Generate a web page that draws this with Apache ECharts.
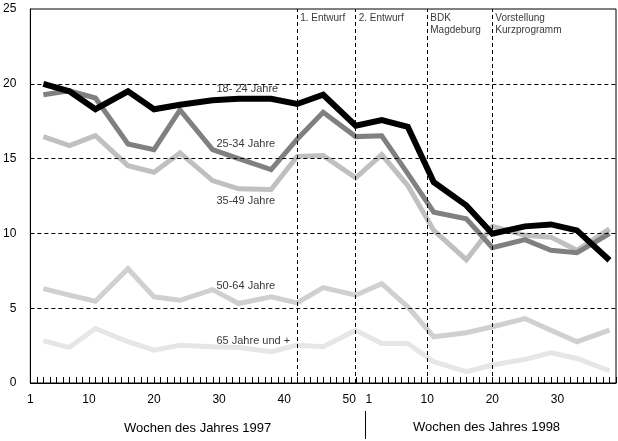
<!DOCTYPE html>
<html>
<head>
<meta charset="utf-8">
<script src="https://cdn.jsdelivr.net/npm/echarts@6/dist/echarts.min.js"></script>
<style>html,body{margin:0;padding:0;background:#fff;}#c{width:618px;height:441px;}</style>
</head>
<body>
<div id="c"></div>
<script>
// Continuous week index: 1..52 = weeks of 1997, 53.. = weeks of 1998 (53 = week 1 of 1998)
const weeks = [3, 7, 11, 16, 20, 24, 29, 33, 38, 42, 46, 51, 55, 59, 63, 68, 72, 77, 81, 85, 90];
const s18_24 = [20.0, 19.5, 18.3, 19.5, 18.3, 18.6, 18.9, 19.0, 19.0, 18.65, 19.27, 17.2, 17.58, 17.13, 13.42, 11.87, 9.98, 10.47, 10.6, 10.2, 8.2];
const s25_34 = [19.27, 19.53, 19.05, 15.98, 15.6, 18.25, 15.6, 15.0, 14.27, 16.3, 18.1, 16.47, 16.53, 14.0, 11.42, 10.98, 9.04, 9.58, 8.87, 8.71, 9.98];
const s35_49 = [16.47, 15.87, 16.53, 14.53, 14.09, 15.38, 13.53, 12.98, 12.93, 15.15, 15.2, 13.71, 15.27, 13.2, 10.2, 8.24, 10.47, 9.87, 9.75, 8.87, 10.3];
const s50_64 = [6.31, 5.87, 5.47, 7.64, 5.76, 5.53, 6.24, 5.31, 5.76, 5.36, 6.38, 5.87, 6.64, 5.09, 3.09, 3.36, 3.76, 4.31, 3.53, 2.76, 3.53];
const s65 = [2.82, 2.38, 3.64, 2.76, 2.2, 2.53, 2.42, 2.38, 2.09, 2.53, 2.42, 3.53, 2.64, 2.64, 1.42, 0.76, 1.2, 1.58, 2.02, 1.64, 0.82];
const seriesNames = ['18- 24 Jahre', '25-34 Jahre', '35-49 Jahre', '50-64 Jahre', '65 Jahre und +'];
const xLabelWeeks = [1, 10, 20, 30, 40, 50, 53, 62, 72, 82];
const eventWeeks = [42, 51, 62, 72];
const eventNames = ['1. Entwurf', '2. Entwurf', 'BDK\nMagdeburg', 'Vorstellung\nKurzprogramm'];
const yearTitles = ['Wochen des Jahres 1997', 'Wochen des Jahres 1998'];

const FONT = 'Liberation Sans, Arial, sans-serif';
const tickWeeks = [];
for (let w = 1; w <= 91; w++) tickWeeks.push(w);

function pairs(vals) { return weeks.map((w, i) => [w, vals[i]]); }

const lineDefs = [
  { name: seriesNames[4], data: s65, color: '#e6e6e6', width: 5, labelY: 2.82 },
  { name: seriesNames[3], data: s50_64, color: '#d0d0d0', width: 5, labelY: 6.49 },
  { name: seriesNames[2], data: s35_49, color: '#c0c0c0', width: 5, labelY: 12.2 },
  { name: seriesNames[1], data: s25_34, color: '#808080', width: 5, labelY: 15.98 },
  { name: seriesNames[0], data: s18_24, color: '#000000', width: 6, labelY: 19.65 }
];

const series = lineDefs.map(d => ({
  type: 'line', name: d.name, data: pairs(d.data), symbol: 'none',
  lineStyle: { color: d.color, width: d.width, join: 'miter' }, z: 3
}));

// reference lines
series.push({
  type: 'line', data: [], silent: true,
  markLine: {
    silent: true, symbol: 'none', animation: false,
    label: { show: false },
    lineStyle: { color: '#000', width: 1, type: [4, 3] },
    data: [5, 10, 15, 20].map(v => ({ yAxis: v })).concat(eventWeeks.map(w => ({ xAxis: w })))
  }
});

// series name labels
series.push({
  type: 'scatter', symbolSize: 0, silent: true, z: 5,
  data: lineDefs.map(d => ({ value: [29.6, d.labelY], name: d.name })),
  label: { show: true, formatter: '{b}', position: [0, 0], align: 'left', verticalAlign: 'middle',
           fontFamily: FONT, fontSize: 11, color: '#000' }
});

// event annotations
series.push({
  type: 'scatter', symbolSize: 0, silent: true, z: 5,
  data: eventWeeks.map((w, i) => ({ value: [w, 25], name: eventNames[i] })),
  label: { show: true, formatter: '{b}', position: [3, 3], align: 'left', verticalAlign: 'top',
           fontFamily: FONT, fontSize: 10, lineHeight: 12, color: '#000' }
});

const chart = echarts.init(document.getElementById('c'), null, { renderer: 'canvas' });
chart.setOption({
  animation: false,
  backgroundColor: '#fff',
  grid: { left: 29, right: 2, top: 9, bottom: 58, show: true, backgroundColor: 'transparent', borderColor: '#000', borderWidth: 1, containLabel: false },
  xAxis: {
    type: 'value', min: 1, max: 91, interval: 1,
    axisLine: { show: true, lineStyle: { color: '#000', width: 1 } },
    axisTick: { show: false },
    axisLabel: { show: true, margin: 11, fontFamily: FONT, fontSize: 12, color: '#000',
                 hideOverlap: false, showMinLabel: true, showMaxLabel: false,
                 formatter: v => xLabelWeeks.indexOf(v) >= 0 ? String(v > 52 ? v - 52 : v) : '' },
    splitLine: { show: false }
  },
  yAxis: {
    type: 'value', min: 0, max: 25, interval: 5,
    axisLine: { show: true, lineStyle: { color: '#000', width: 1 } },
    axisTick: { show: false },
    axisLabel: { margin: 14, fontFamily: FONT, fontSize: 12, color: '#000' },
    splitLine: { show: false }
  },
  series: series
});

// positions from the axis scale
const y0 = chart.convertToPixel({ gridIndex: 0 }, [26.7, 0])[1];
const c97 = chart.convertToPixel({ gridIndex: 0 }, [26.7, 0])[0];
const c98 = chart.convertToPixel({ gridIndex: 0 }, [71.1, 0])[0];
const sep = chart.convertToPixel({ gridIndex: 0 }, [52.5, 0])[0];
const yAxisPx = Math.round(y0);

// weekly tick marks pointing up from the x axis
const tickGraphics = tickWeeks.map(w => {
  const px = Math.round(chart.convertToPixel({ gridIndex: 0 }, [w, 0])[0]) + 0.5;
  return { type: 'line', z: 100, silent: true,
           shape: { x1: px, y1: yAxisPx, x2: px, y2: yAxisPx - 6 },
           style: { stroke: '#000', lineWidth: 1 } };
});

chart.setOption({
  graphic: [
    { type: 'text', x: c97, y: y0 + 45, style: { text: yearTitles[0], font: '13px ' + FONT, fill: '#000', align: 'center', verticalAlign: 'middle' } },
    { type: 'text', x: c98, y: y0 + 44, style: { text: yearTitles[1], font: '13px ' + FONT, fill: '#000', align: 'center', verticalAlign: 'middle' } },
    { type: 'line', shape: { x1: Math.round(sep) + 0.5, y1: y0 + 28, x2: Math.round(sep) + 0.5, y2: y0 + 56 }, style: { stroke: '#000', lineWidth: 1 } }
  ].concat(tickGraphics)
});
</script>
</body>
</html>
